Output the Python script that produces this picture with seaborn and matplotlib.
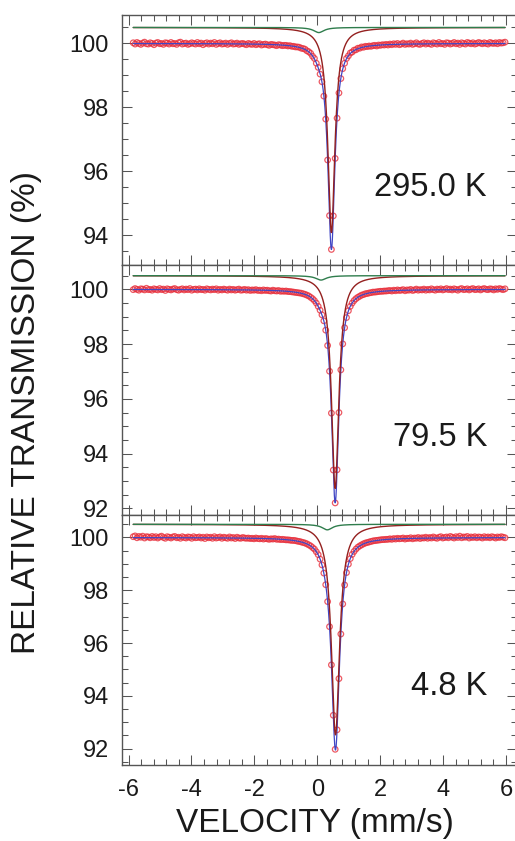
import numpy as np
import pandas as pd
import matplotlib
matplotlib.use("Agg")
import matplotlib.pyplot as plt
from matplotlib.ticker import MultipleLocator
import seaborn as sns

# Sample temperatures, one spectrum per panel (top to bottom)
temperatures = ["295.0 K", "79.5 K", "4.8 K"]

# Velocity of the first and last channel of the folded spectra (mm/s)
velocity_first = -5.85
velocity_last = 5.97

# Measured relative transmission (%) per channel
trans_295 = [
    100.02, 99.98, 100.03, 100.00, 99.97, 100.01, 100.04, 99.99, 99.98, 100.02,
    100.00, 99.96, 100.01, 100.03, 99.99, 100.00, 99.97, 100.02, 100.01, 99.98,
    100.03, 99.99, 100.00, 99.97, 100.02, 100.04, 99.98, 100.00, 100.01, 99.97,
    99.99, 100.02, 100.00, 99.98, 100.03, 99.99, 100.01, 99.96, 100.00, 100.02,
    99.98, 100.01, 99.99, 100.03, 99.97, 100.00, 100.02, 99.98, 99.99, 100.01,
    99.97, 100.00, 100.02, 99.98, 99.99, 100.01, 99.97, 99.99, 100.00, 99.98,
    99.96, 100.00, 99.98, 99.97, 100.00, 99.96, 99.98, 99.99, 99.95, 99.97,
    99.98, 99.96, 99.94, 99.97, 99.96, 99.95, 99.93, 99.96, 99.95, 99.93,
    99.94, 99.94, 99.92, 99.93, 99.91, 99.91, 99.89, 99.89, 99.88, 99.85,
    99.84, 99.82, 99.77, 99.74, 99.69, 99.60, 99.53, 99.38, 99.25, 99.04,
    98.80, 98.35, 97.63, 96.35, 94.61, 93.55, 94.60, 96.40, 97.66, 98.45,
    98.90, 99.21, 99.38, 99.53, 99.61, 99.70, 99.73, 99.79, 99.80, 99.85,
    99.85, 99.89, 99.88, 99.91, 99.90, 99.92, 99.91, 99.93, 99.94, 99.92,
    99.95, 99.94, 99.96, 99.95, 99.97, 99.95,
    99.98, 99.96, 99.99, 99.97, 100.00, 99.96, 99.98, 100.01, 99.97, 99.99,
    99.98, 100.01, 99.97, 99.99, 100.02, 99.98, 99.97, 100.00, 100.02, 99.98,
    100.01, 99.99, 99.97, 100.02, 100.00, 99.98, 100.03, 99.99, 100.00, 99.97,
    100.02, 100.01, 99.98, 100.00, 100.03, 99.99, 100.01, 99.97, 100.02, 100.00,
    99.98, 100.03, 100.01, 99.99, 100.02, 99.98, 100.00, 100.03, 100.01, 99.99,
    100.02, 100.00, 99.98, 100.03, 100.01, 100.00, 100.02, 99.99, 100.03, 100.01,
    100.02, 100.04,
]
trans_79 = [
    99.99, 100.03, 100.00, 99.97, 100.02, 100.01, 99.98, 100.04, 99.99, 100.00,
    99.97, 100.02, 100.00, 99.98, 100.03, 99.99, 100.01, 99.96, 100.02, 100.00,
    99.98, 100.01, 100.03, 99.99, 99.97, 100.00, 100.02, 99.98, 100.01, 99.99,
    100.03, 99.97, 100.00, 100.01, 99.98, 100.02, 99.99, 100.00, 99.97, 100.02,
    100.00, 99.98, 100.01, 99.99, 100.02, 99.97, 100.00, 99.98, 100.01, 99.99,
    99.97, 100.01, 99.98, 100.00, 99.97, 99.99, 100.01, 99.97, 99.98, 100.00,
    99.97, 99.99, 99.96, 99.98, 99.97, 99.99, 99.96, 99.97, 99.95, 99.98,
    99.96, 99.97, 99.95, 99.94, 99.97, 99.95, 99.94, 99.96, 99.93, 99.94,
    99.93, 99.94, 99.92, 99.92, 99.91, 99.90, 99.89, 99.88, 99.87, 99.86,
    99.84, 99.82, 99.79, 99.76, 99.71, 99.66, 99.59, 99.50, 99.38, 99.24,
    99.07, 98.85, 98.51, 97.95, 97.01, 95.48, 93.40, 92.20, 93.41, 95.50,
    97.06, 98.01, 98.60, 98.97, 99.22, 99.38, 99.50, 99.59, 99.66, 99.71,
    99.75, 99.79, 99.81, 99.84, 99.85, 99.87, 99.88, 99.90, 99.90, 99.91,
    99.92, 99.93, 99.93, 99.94, 99.94, 99.95,
    99.96, 99.94, 99.97, 99.95, 99.98, 99.96, 99.97, 99.99, 99.95, 99.98,
    99.97, 100.00, 99.96, 99.98, 100.01, 99.97, 99.99, 99.98, 100.01, 99.97,
    100.00, 99.98, 100.02, 99.99, 99.97, 100.01, 99.99, 100.02, 99.98, 100.00,
    100.03, 99.99, 100.01, 99.98, 100.02, 100.00, 99.97, 100.01, 100.03, 99.99,
    100.00, 100.02, 99.98, 100.01, 100.03, 99.99, 100.00, 100.02, 99.98, 100.01,
    100.03, 100.00, 99.99, 100.02, 100.01, 99.98, 100.02, 100.00, 100.03, 100.01,
    99.99, 100.02,
]
trans_4 = [
    100.03, 100.06, 99.99, 100.04, 100.01, 100.05, 99.98, 100.03, 100.02, 99.99,
    100.04, 100.00, 100.03, 99.98, 100.02, 100.05, 100.00, 99.97, 100.03, 100.01,
    99.98, 100.02, 100.04, 99.99, 100.01, 99.97, 100.03, 100.00, 99.98, 100.02,
    100.01, 99.97, 100.03, 99.99, 100.00, 100.02, 99.98, 100.01, 99.96, 100.02,
    99.99, 100.01, 99.97, 100.03, 99.98, 100.00, 100.02, 99.97, 100.01, 99.99,
    99.97, 100.02, 99.98, 100.00, 99.96, 100.01, 99.98, 99.97, 100.00, 99.98,
    99.97, 99.98, 99.96, 99.97, 99.95, 99.98, 99.96, 99.95, 99.97, 99.94,
    99.96, 99.95, 99.93, 99.95, 99.94, 99.96, 99.93, 99.94, 99.92, 99.93,
    99.92, 99.91, 99.91, 99.90, 99.89, 99.89, 99.88, 99.86, 99.85, 99.83,
    99.81, 99.79, 99.76, 99.72, 99.68, 99.62, 99.56, 99.46, 99.35, 99.18,
    98.96, 98.65, 98.21, 97.57, 96.62, 95.17, 93.26, 91.97, 92.71, 94.65,
    96.34, 97.48, 98.20, 98.67, 98.99, 99.20, 99.36, 99.47, 99.56, 99.63,
    99.68, 99.72, 99.76, 99.79, 99.81, 99.83, 99.85, 99.87, 99.88, 99.89,
    99.90, 99.91, 99.92, 99.92, 99.93, 99.93,
    99.95, 99.93, 99.96, 99.94, 99.97, 99.95, 99.96, 99.98, 99.94, 99.97,
    99.96, 99.99, 99.95, 99.98, 99.97, 100.00, 99.96, 99.99, 99.98, 100.01,
    99.97, 100.00, 99.98, 100.02, 99.99, 99.97, 100.01, 100.03, 99.98, 100.00,
    100.02, 99.99, 100.04, 100.01, 99.98, 100.03, 100.00, 100.05, 99.99, 100.02,
    100.01, 100.04, 99.98, 100.02, 100.00, 100.03, 99.99, 100.02, 100.01, 99.98,
    100.03, 100.00, 100.02, 99.99, 100.03, 100.01, 99.98, 100.02, 100.00, 100.03,
    100.01, 99.99,
]
spectra = [trans_295, trans_79, trans_4]

# Fitted Lorentzian lines: main absorption line and weak secondary line
main_center = [0.45, 0.57, 0.58]
main_hwhm = [0.135, 0.14, 0.155]
main_depth = [6.42, 7.77, 7.98]
minor_center = [0.05, 0.12, 0.32]
minor_hwhm = [0.20, 0.20, 0.20]
minor_depth = [0.16, 0.16, 0.21]
component_offset = 0.5  # components are drawn shifted above the spectrum

y_limits = [(93.066, 100.887), (91.77, 100.894), (91.394, 100.864)]
x_limits = (-6.207, 6.35)

DATA_RED = "#e8303c"
FIT_BLUE = "#4045c4"
MAIN_RED = "#94201f"
MINOR_GREEN = "#2f7d4d"
FRAME = "#555555"
INK = "#1a1a1a"

sns.set_theme(style="ticks")
plt.rcParams["font.family"] = ["Liberation Sans", "DejaVu Sans"]
plt.rcParams["axes.unicode_minus"] = False


def lorentzian(v, center, hwhm, depth):
    return depth / (1.0 + ((v - center) / hwhm) ** 2)


fig = plt.figure(figsize=(5.15, 8.41), dpi=100)
ax_left, ax_width, ax_height = 0.23689, 0.76699, 0.29703
bottoms = [0.68502, 0.38799, 0.09096]

for i, (label, trans) in enumerate(zip(temperatures, spectra)):
    ax = fig.add_axes([ax_left, bottoms[i], ax_width, ax_height])
    v = np.linspace(velocity_first, velocity_last, len(trans))
    vf = np.linspace(velocity_first, velocity_last, 3000)
    main = lorentzian(vf, main_center[i], main_hwhm[i], main_depth[i])
    minor = lorentzian(vf, minor_center[i], minor_hwhm[i], minor_depth[i])

    pts = pd.DataFrame({"velocity": v, "transmission": trans})
    fit = pd.DataFrame({
        "velocity": vf,
        "total": 100.0 - main - minor,
        "main": 100.0 + component_offset - main,
        "minor": 100.0 + component_offset - minor,
    })

    sns.scatterplot(data=pts, x="velocity", y="transmission", ax=ax,
                    marker="o", s=16, color=DATA_RED, facecolor="none",
                    edgecolor=DATA_RED, linewidth=0.9, alpha=0.8, zorder=2)
    sns.lineplot(data=fit, x="velocity", y="total", ax=ax, color=FIT_BLUE,
                 lw=0.9, estimator=None, sort=False, zorder=3)
    sns.lineplot(data=fit, x="velocity", y="main", ax=ax, color=MAIN_RED,
                 lw=1.0, estimator=None, sort=False, zorder=3)
    sns.lineplot(data=fit, x="velocity", y="minor", ax=ax, color=MINOR_GREEN,
                 lw=1.0, estimator=None, sort=False, zorder=4)

    ax.set_xlim(*x_limits)
    ax.set_ylim(*y_limits[i])
    ax.xaxis.set_major_locator(MultipleLocator(2))
    ax.xaxis.set_minor_locator(MultipleLocator(0.4))
    ax.yaxis.set_major_locator(MultipleLocator(2))
    ax.yaxis.set_minor_locator(MultipleLocator(0.5))
    ax.tick_params(which="both", direction="in", top=True, right=True,
                   color=FRAME, width=0.75, labelcolor=INK)
    ax.tick_params(which="major", length=7.2)
    ax.tick_params(which="minor", length=4.0)
    ax.tick_params(axis="y", labelsize=17, pad=9.5)
    ax.tick_params(axis="x", labelsize=17, pad=10.5)
    if i < 2:
        ax.tick_params(axis="x", labelbottom=False)
    for sp in ax.spines.values():
        sp.set_color(FRAME)
        sp.set_linewidth(1.0)
    ax.set_xlabel("")
    ax.set_ylabel("")
    ax.text(0.924, 0.277, label, transform=ax.transAxes, ha="right",
            va="baseline", fontsize=23.5, color=INK)

fig.text(0.052, 0.51, "RELATIVE TRANSMISSION (%)", rotation=90,
         ha="center", va="center", fontsize=24, color=INK)
fig.text(0.6117, 0.0105, "VELOCITY (mm/s)", ha="center", va="baseline",
         fontsize=24, color=INK)

fig.savefig("out.png", dpi=100)
